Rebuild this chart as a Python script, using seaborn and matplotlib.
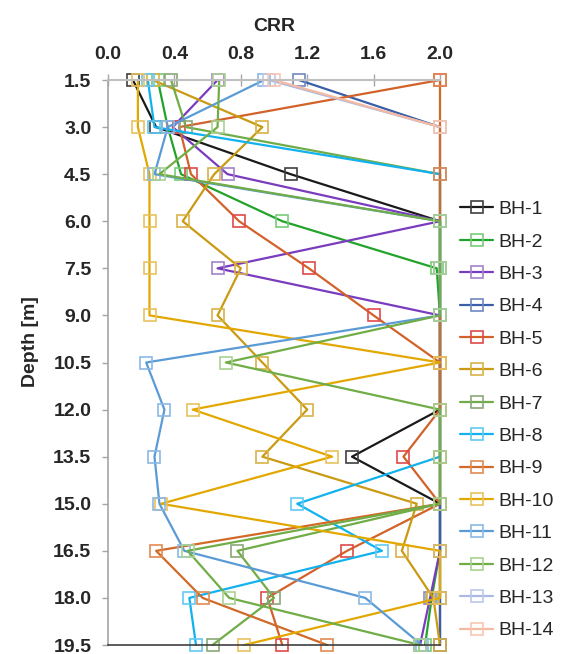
import matplotlib
matplotlib.use("Agg")
import matplotlib.pyplot as plt
import seaborn as sns
import pandas as pd

# ---------------- data ----------------
depth = [1.5, 3.0, 4.5, 6.0, 7.5, 9.0, 10.5, 12.0, 13.5, 15.0, 16.5, 18.0, 19.5]
names = ["BH-1", "BH-2", "BH-3", "BH-4", "BH-5", "BH-6", "BH-7",
         "BH-8", "BH-9", "BH-10", "BH-11", "BH-12", "BH-13", "BH-14"]

bh1 = [0.15, 0.29, 1.10, 2.0, 2.0, 2.0, 2.0, 2.0, 1.47, 2.0, 2.0, 2.0, 2.0]
bh2 = [0.30, 0.36, 0.44, 1.05, 1.98, 2.0, 2.0, 2.0, 2.0, 2.0, 2.0, 1.95, 1.91]
bh3 = [0.66, 0.39, 0.72, 2.0, 0.66, 2.0, 2.0, 2.0, 2.0, 2.0, 2.0, 1.94, 1.88]
bh4 = [1.15, 2.0, 2.0, 2.0, 2.0, 2.0, 2.0, 2.0, 2.0, 2.0, 2.0, 2.0, 2.0]
bh5 = [2.0, 0.43, 0.50, 0.79, 1.21, 1.60, 2.0, 2.0, 1.78, 2.0, 1.44, 0.96, 1.05]
bh6 = [0.27, 0.93, 0.64, 0.45, 0.80, 0.66, 0.93, 1.20, 0.93, 1.86, 1.77, 1.96, 2.0]
bh7 = [0.38, 0.47, 2.0, 2.0, 2.0, 2.0, 2.0, 2.0, 2.0, 2.0, 0.78, 1.00, 0.63]
bh8 = [0.24, 0.28, 2.0, 2.0, 2.0, 2.0, 2.0, 2.0, 2.0, 1.14, 1.65, 0.49, 0.53]
bh9 = [2.0, 2.0, 2.0, 2.0, 2.0, 2.0, 2.0, 2.0, 2.0, 2.0, 0.29, 0.57, 1.32]
bh10 = [0.18, 0.18, 0.25, 0.25, 0.25, 0.25, 2.0, 0.51, 1.35, 0.32, 2.0, 2.0, 0.82]
bh11 = [0.94, 0.36, 0.28, 2.0, 2.0, 2.0, 0.23, 0.34, 0.28, 0.31, 0.46, 1.55, 1.89]
bh12 = [0.67, 0.66, 0.31, 2.0, 2.0, 2.0, 0.71, 2.0, 2.0, 2.0, 0.48, 0.73, 1.88]
bh13 = [0.97, 2.0]
bh14 = [1.00, 2.0]

series = [bh1, bh2, bh3, bh4, bh5, bh6, bh7, bh8, bh9, bh10, bh11, bh12, bh13, bh14]

x_ticks = [0.0, 0.4, 0.8, 1.2, 1.6, 2.0]
y_ticks = [1.5, 3.0, 4.5, 6.0, 7.5, 9.0, 10.5, 12.0, 13.5, 15.0, 16.5, 18.0, 19.5]

line_colors = ["#1a1a1a", "#22a32a", "#7a3cbf", "#3a5ea8", "#d2622a", "#c99a12",
               "#70ad47", "#12b2ee", "#d16a28", "#e2a800", "#5b9bd5", "#70ad47",
               "#a9b9e2", "#f5b9a2"]
marker_colors = ["#404040", "#78cc78", "#a482cc", "#6f88c4", "#e04a4a", "#d9b347",
                 "#8aa878", "#62c9f2", "#e38a52", "#e9c25e", "#8cb9e5", "#a9d292",
                 "#bcc7ea", "#f8c6b2"]

# ---------------- plot ----------------
sns.set_style("white")
plt.rcParams["font.family"] = ["Liberation Sans", "DejaVu Sans"]

fig = plt.figure(figsize=(5.63, 6.54), dpi=100)
ax = fig.add_axes([108 / 563, 1 - 645 / 654, (440 - 108) / 563, (645 - 80) / 654])

for name, vals, lc, mc in zip(names, series, line_colors, marker_colors):
    df = pd.DataFrame({"CRR": vals, "Depth": depth[:len(vals)]})
    sns.lineplot(data=df, x="CRR", y="Depth", orient="y", estimator=None,
                 errorbar=None, sort=True, ax=ax, color=lc, linewidth=1.6,
                 marker="s", markersize=9, markerfacecolor="none",
                 markeredgecolor=mc, markeredgewidth=1.2, label=name,
                 clip_on=False)

ax.set_xlim(0, 2.0)
ax.set_ylim(19.5, 1.5)
ax.xaxis.tick_top()
ax.xaxis.set_label_position("top")
ax.set_xticks(x_ticks)
ax.set_xticklabels([f"{t:.1f}" for t in x_ticks], fontweight="bold", fontsize=14)
ax.set_yticks(y_ticks)
ax.set_yticklabels([f"{t:.1f}" for t in y_ticks], fontweight="bold", fontsize=14)

ax.tick_params(axis="x", direction="inout", length=9, width=1, color="#a6a6a6", pad=8)
ax.tick_params(axis="y", direction="out", length=4, width=1, color="#a6a6a6", pad=8,
               left=True)

ax.set_xlabel("CRR", fontweight="bold", fontsize=14)
ax.set_ylabel("Depth [m]", fontweight="bold", fontsize=14)
ax.xaxis.set_label_coords(0.5, (645 - 31) / 565)
ax.yaxis.set_label_coords((39 - 108) / 332, (645 - 342) / 565)

ax.spines["right"].set_visible(False)
ax.spines["top"].set_color("#bfbfbf")
ax.spines["top"].set_linewidth(1.5)
ax.spines["left"].set_color("#a6a6a6")
ax.spines["left"].set_linewidth(1.2)
ax.spines["bottom"].set_color("#404040")
ax.spines["bottom"].set_linewidth(1.2)

leg = ax.legend(loc="center left", bbox_to_anchor=(460 / 563, 1 - 420 / 654),
                bbox_transform=fig.transFigure, frameon=False, fontsize=14,
                handlelength=1.7, handletextpad=0.25, labelspacing=0.76,
                borderaxespad=0, borderpad=0)

fig.savefig("out.png", dpi=100)
